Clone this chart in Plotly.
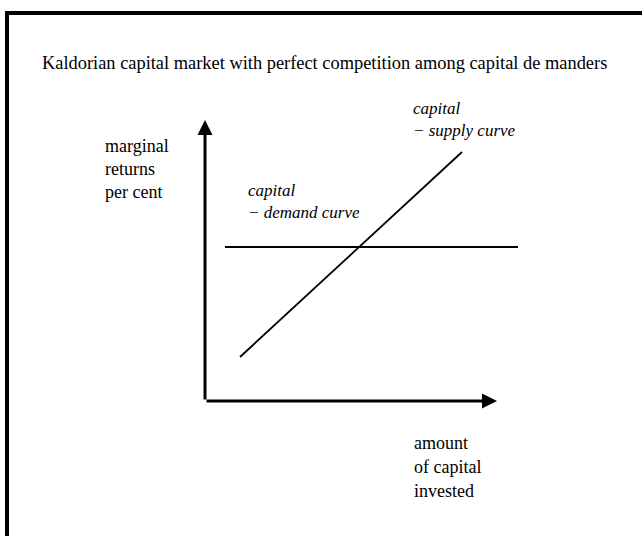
import plotly.graph_objects as go

# ---- data (diagram units: origin at the axes corner) ----
title_text = "Kaldorian capital market with perfect competition among capital de manders"
y_axis_labels = ["marginal", "returns", "per cent"]
x_axis_labels = ["amount", "of capital", "invested"]
supply_labels = ["capital", "\u2212 supply curve"]
demand_labels = ["capital", "\u2212 demand curve"]

axis_x_end = 292      # length of the horizontal (quantity) axis
axis_y_end = 281      # length of the vertical (returns) axis

demand_x = [20, 313]  # horizontal capital-demand curve
demand_y = [154, 154]

supply_x = [35, 257]  # upward sloping capital-supply curve
supply_y = [44, 249]

# ---- figure ----
fig = go.Figure()

fig.add_trace(go.Scatter(x=demand_x, y=demand_y, mode="lines",
                         line=dict(color="black", width=1.8),
                         hoverinfo="skip", showlegend=False))
fig.add_trace(go.Scatter(x=supply_x, y=supply_y, mode="lines",
                         line=dict(color="black", width=1.8),
                         hoverinfo="skip", showlegend=False))

annotations = []
# axes with arrow heads
annotations.append(dict(x=0, y=axis_y_end, ax=0, ay=0, xref="x", yref="y",
                        axref="x", ayref="y", showarrow=True, arrowhead=2,
                        arrowsize=1, arrowwidth=3, arrowcolor="black", text=""))
annotations.append(dict(x=axis_x_end, y=0, ax=0, ay=0, xref="x", yref="y",
                        axref="x", ayref="y", showarrow=True, arrowhead=2,
                        arrowsize=1, arrowwidth=3, arrowcolor="black", text=""))

serif = "Liberation Serif, Times New Roman, serif"
ital = "Liberation Serif, serif"


def add_lines(lines, x0, y0, step, font, size, italic=False):
    for i, t in enumerate(lines):
        f = dict(family=font, size=size, color="black")
        txt = t
        if italic:
            f["style"] = "italic"
            txt = f"<i>{t}</i>"
        annotations.append(dict(x=x0, y=y0 - i * step, xref="x", yref="y",
                                text=txt, showarrow=False, xanchor="left",
                                yanchor="middle", font=f))


add_lines([title_text], -165, 338, 0, serif, 18.4)
add_lines(y_axis_labels, -102, 255, 23, serif, 18)
add_lines(x_axis_labels, 207, -42, 24, serif, 18)
add_lines(supply_labels, 206, 293, 22, ital, 17, italic=True)
add_lines(demand_labels, 41, 211, 22, ital, 17, italic=True)

fig.update_layout(
    width=642, height=536,
    margin=dict(l=0, r=0, t=0, b=0),
    paper_bgcolor="white", plot_bgcolor="white",
    xaxis=dict(range=[-205, 437], visible=False, fixedrange=True),
    yaxis=dict(range=[-135, 401], visible=False, fixedrange=True),
    annotations=annotations,
    shapes=[dict(type="rect", xref="x", yref="y", x0=-198, x1=600,
                 y0=-300, y1=388, line=dict(color="black", width=4))],
    showlegend=False,
)

fig.write_html("out.html",
               config={"displayModeBar": False, "staticPlot": True},
               post_script="document.body.style.margin='0';"
                           "document.body.style.padding='0';"
                           "document.body.style.overflow='hidden';")
